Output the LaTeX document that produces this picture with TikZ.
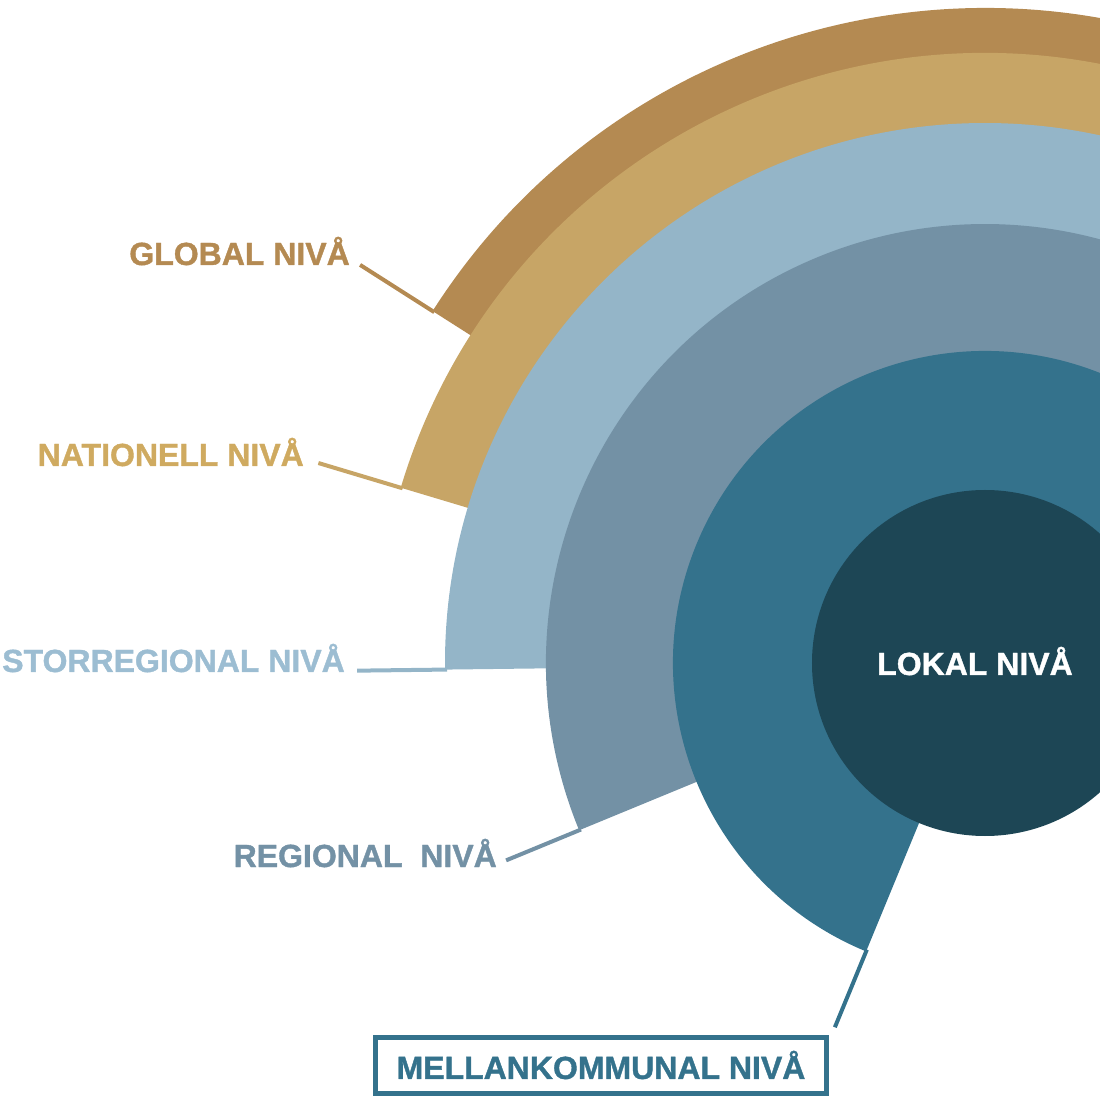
\documentclass[tikz,border=0pt]{standalone}
\usepackage{fontspec}
\setmainfont[BoldFeatures={FakeBold=1.2}]{Liberation Sans}
\usetikzlibrary{positioning}
\definecolor{globc}{HTML}{B48A52}
\definecolor{natc}{HTML}{C7A566}
\definecolor{storc}{HTML}{94B5C8}
\definecolor{regc}{HTML}{7391A5}
\definecolor{mellc}{HTML}{34728C}
\definecolor{lokc}{HTML}{1D4655}
\definecolor{natl}{HTML}{CFAA60}
\definecolor{storl}{HTML}{9CBDD2}

\begin{document}
\begin{tikzpicture}[x=1pt,y=1pt,inner sep=0pt]
  \useasboundingbox(-985,-434)rectangle(115,663);
  \clip(-985,-434)rectangle(115,663);
  \tikzstyle{t}=[font=\fontsize{32}{32}\selectfont\bfseries]
  % rings, outermost first
  \foreach\r/\a/\c in{655/147.5/globc,610/163.3/natc,540/180.7/storc,439/202.4/regc,312/247.6/mellc}{\fill[\c](0,0)--(\a:\r)arc[start angle=\a,end angle=0,radius=\r]--cycle;}
  \node[circle,fill=lokc,minimum size=346pt](lok)at(0,0){};
  \node[t,white,anchor=base](lokt)at(-10,-12){LOKAL NIVÅ};
  % leaders
  \tikzstyle{e}=[line width=4pt]
  \foreach\n/\a/\o/\i/\c in{g/147.5/741/653/globc,n/163.3/696/608/natc,s/180.7/628/538/storc,r/202.4/518/437/regc,m/247.6/394/310/mellc}{\coordinate(\n-o)at(\a:\o);\coordinate(\n-i)at(\a:\i);\draw[e,\c](\n-o)--(\n-i);}
  % labels
  \node[t,globc,anchor=base east](glob)at(-635,398){GLOBAL NIVÅ};
  \node[t,natl,anchor=base east](nat)at(-681,197){NATIONELL NIVÅ};
  \node[t,storl,anchor=base east](stor)at(-640,-9){STORREGIONAL NIVÅ};
  \node[t,regc,anchor=base east](reg)at(-488,-204){REGIONAL\ \ NIVÅ};
  \node[t,mellc,draw,line width=5pt,minimum width=451pt,minimum height=56pt](mell)at(-384,-402){MELLANKOMMUNAL NIVÅ};
\end{tikzpicture}
\end{document}
